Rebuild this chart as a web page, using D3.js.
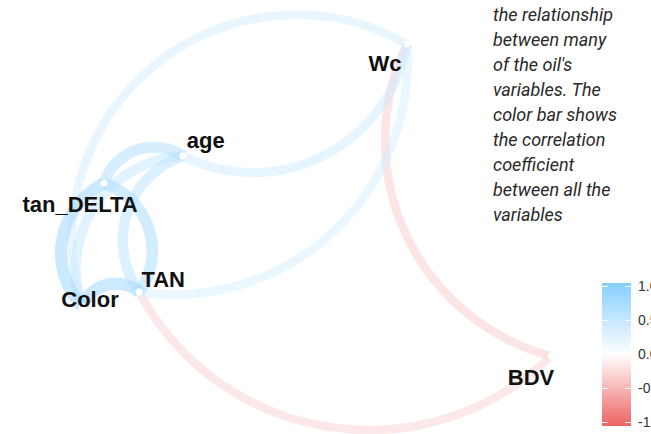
<!DOCTYPE html>
<html>
<head>
<meta charset="utf-8">
<script src="https://cdn.jsdelivr.net/npm/d3@7"></script>
<style>
  html, body { margin: 0; padding: 0; background: #ffffff; }
  svg { display: block; }
</style>
</head>
<body>
<div id="chart"></div>
<script>
// ---------------- data ----------------
// variables (in the order used for the correlation matrix)
const variables = ["BDV", "Color", "Wc", "tan_DELTA", "TAN", "age"];
// 2-D layout coordinates of each variable (multidimensional scaling of 1-|r|)
const nodeX = [1.000, 0.000, 0.693, 0.047, 0.122, 0.215];
const nodeY = [0.000, 0.160, 1.000, 0.554, 0.205, 0.641];
// pairs with |r| >= 0.3
const edgeFrom = ["BDV", "BDV", "Color", "Color", "Color", "Color", "Wc", "Wc", "tan_DELTA", "tan_DELTA", "TAN"];
const edgeTo   = ["Wc", "TAN", "Wc", "tan_DELTA", "TAN", "age", "age", "TAN", "TAN", "age", "age"];
const edgeR    = [-0.35, -0.33, 0.37, 0.72, 0.72, 0.50, 0.42, 0.36, 0.66, 0.62, 0.55];
// colour bar
const legendTicks = [1.0, 0.5, 0.0, -0.5, -1.0];
const legendLabels = ["1.0", "0.5", "0.0", "-0.5", "-1.0"];
// caption text at the right
const captionLines = ["the relationship", "between many", "of the oil's", "variables. The",
  "color bar shows", "the correlation", "coefficient", "between all the", "variables"];

// ---------------- layout / style ----------------
const W = 651, H = 434;
const labelOffset = {
  "Wc": [-22, 27], "age": [23, -8], "tan_DELTA": [-24, 29],
  "TAN": [24, -5], "Color": [8, 1], "BDV": [-20, 29]
};
// curve bulge (sagitta / chord) per drawn path, default otherwise
const defaultBend = 0.25;
const bendFor = { "BDV-Wc": 0.235, "Color-Wc": 0.34, "Wc-TAN": 0.24 };

const svg = d3.select("#chart").append("svg").attr("width", W).attr("height", H);
svg.append("rect").attr("width", W).attr("height", H).attr("fill", "#ffffff");

const x = d3.scaleLinear().domain([0, 1]).range([82, 551]);
const y = d3.scaleLinear().domain([0, 1]).range([356, 44]);

const colour = d3.scaleLinear().domain([-1, 0, 1]).range(["#EE6363", "#ffffff", "#87CEFF"]).interpolate(d3.interpolateRgb);
const width = d3.scaleLinear().domain([0.3, 0.75]).range([8, 12.5]);
const alpha = d3.scaleLinear().domain([0.3, 0.75]).range([0.45, 0.6]);

const nodes = variables.map((v, i) => ({ name: v, px: x(nodeX[i]), py: y(nodeY[i]) }));
const byName = Object.fromEntries(nodes.map(n => [n.name, n]));
const edges = edgeFrom.map((f, i) => ({ key: f + "-" + edgeTo[i], a: byName[f], b: byName[edgeTo[i]], r: edgeR[i] }));

function arcPath(e) {
  const x1 = e.a.px, y1 = e.a.py, x2 = e.b.px, y2 = e.b.py;
  const d = Math.hypot(x2 - x1, y2 - y1);
  const k = bendFor[e.key] !== undefined ? bendFor[e.key] : defaultBend;
  const s = k * d;
  const R = (d * d) / (8 * s) + s / 2;
  return `M${x1},${y1}A${R},${R} 0 0 1 ${x2},${y2}`;
}

const gEdges = svg.append("g");
gEdges.selectAll("path").data(edges.slice().sort((p, q) => Math.abs(p.r) - Math.abs(q.r)))
  .join("path")
  .attr("d", arcPath)
  .attr("fill", "none")
  .attr("stroke", d => colour(d.r))
  .attr("stroke-opacity", d => alpha(Math.abs(d.r)))
  .attr("stroke-width", d => width(Math.abs(d.r)))
  .attr("stroke-linecap", "butt");

svg.append("g").selectAll("circle").data(nodes).join("circle")
  .attr("cx", d => d.px).attr("cy", d => d.py).attr("r", 3.5)
  .attr("fill", "#ffffff");

svg.append("g").selectAll("text").data(nodes).join("text")
  .attr("x", d => d.px + labelOffset[d.name][0])
  .attr("y", d => d.py + labelOffset[d.name][1])
  .attr("text-anchor", "middle")
  .attr("font-family", "'Liberation Sans', Arial, sans-serif")
  .attr("font-weight", "bold")
  .attr("font-size", 22)
  .attr("fill", "#111111")
  .text(d => d.name);

// ---------------- colour bar ----------------
const barX = 602, barW = 29, barTop = 283, barBottom = 426;
const ly = d3.scaleLinear().domain([1, -1]).range([286.5, 422.5]);
const defs = svg.append("defs");
const grad = defs.append("linearGradient").attr("id", "cbar")
  .attr("x1", 0).attr("x2", 0).attr("y1", 0).attr("y2", 1);
d3.range(0, 1.0001, 0.05).forEach(t => {
  grad.append("stop").attr("offset", t).attr("stop-color", colour(1 - 2 * t));
});
svg.append("rect").attr("x", barX).attr("y", barTop).attr("width", barW)
  .attr("height", barBottom - barTop).attr("fill", "url(#cbar)");
const gt = svg.append("g");
legendTicks.forEach((v, i) => {
  gt.append("line").attr("x1", barX).attr("x2", barX + barW / 5)
    .attr("y1", ly(v)).attr("y2", ly(v)).attr("stroke", "#ffffff").attr("stroke-width", 1);
  gt.append("line").attr("x1", barX + barW - barW / 5).attr("x2", barX + barW)
    .attr("y1", ly(v)).attr("y2", ly(v)).attr("stroke", "#ffffff").attr("stroke-width", 1);
  gt.append("text").attr("x", 638).attr("y", ly(v)).attr("dy", "0.35em")
    .attr("font-family", "'Liberation Sans', Arial, sans-serif").attr("font-size", 14)
    .attr("fill", "#333333").text(legendLabels[i]);
});

// ---------------- caption ----------------
svg.append("g").selectAll("text").data(captionLines).join("text")
  .attr("x", 493).attr("y", (d, i) => 21 + 25 * i)
  .attr("font-family", "Roboto, 'Open Sans', sans-serif")
  .attr("font-style", "italic")
  .attr("font-size", 18)
  .attr("fill", "#292929")
  .text(d => d);
</script>
</body>
</html>
